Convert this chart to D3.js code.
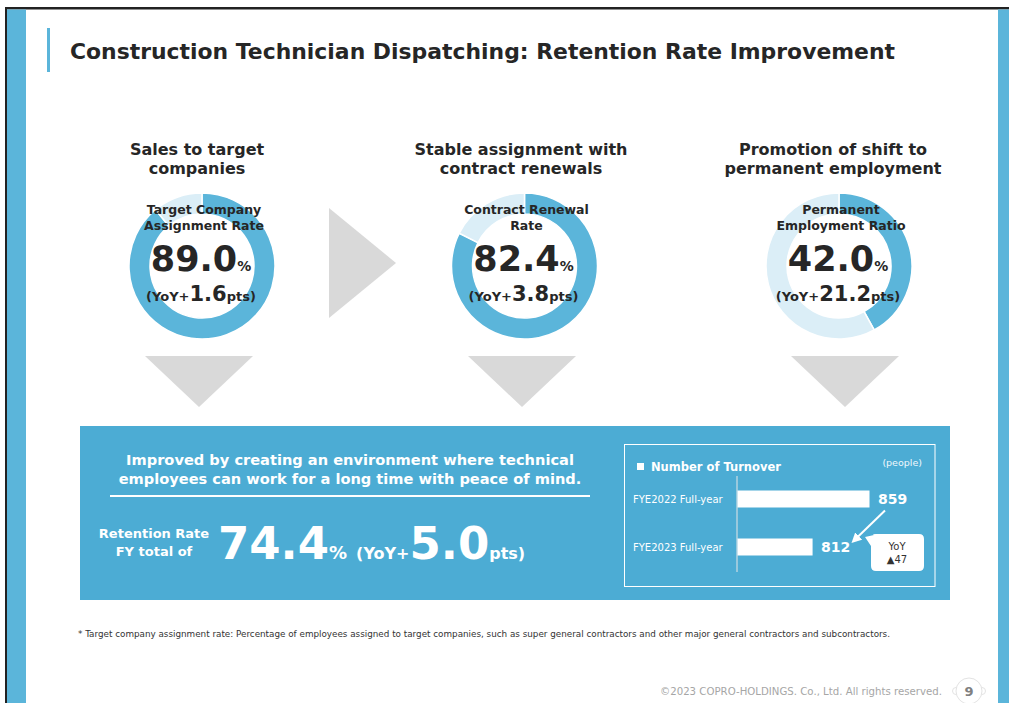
<!DOCTYPE html>
<html>
<head>
<meta charset="utf-8">
<script src="https://cdn.jsdelivr.net/npm/d3@7"></script>
<style>
  body { margin: 0; background: #fff; }
  svg { display: block; font-family: "DejaVu Sans", Verdana, sans-serif; }
</style>
</head>
<body>
<svg id="chart"></svg>
<script>
// ---- data ----
var titleText = "Construction Technician Dispatching: Retention Rate Improvement";
var headings = [["Sales to target", "companies"], ["Stable assignment with", "contract renewals"], ["Promotion of shift to", "permanent employment"]];
var rateLabels = [["Target Company", "Assignment Rate"], ["Contract Renewal", "Rate"], ["Permanent", "Employment Ratio"]];
var rates = [89.0, 82.4, 42.0];
var yoyPts = [1.6, 3.8, 21.2];
var summaryLines = ["Improved by creating an environment where technical", "employees can work for a long time with peace of mind."];
var retentionLabel = ["Retention Rate", "FY total of"];
var retentionRate = 74.4;
var retentionYoY = 5.0;
var turnoverYears = ["FYE2022 Full-year", "FYE2023 Full-year"];
var turnoverValues = [859, 812];
var footnote = "* Target company assignment rate: Percentage of employees assigned to target companies, such as super general contractors and other major general contractors and subcontractors.";
var copyright = "\u00A92023 COPRO-HOLDINGS. Co., Ltd. All rights reserved.";

var W = 1009, H = 703;
var blue = "#5bb5da", boxBlue = "#4cacd4", light = "#dbeef7", grey = "#d9d9d9", ink = "#262626";

var svg = d3.select("#chart").attr("width", W).attr("height", H);

// frame
svg.append("rect").attr("x", 5).attr("y", 7).attr("width", W - 5).attr("height", 2.5).attr("fill", "#222");
svg.append("rect").attr("x", 5).attr("y", 7).attr("width", 2).attr("height", H - 7).attr("fill", "#222");
svg.append("rect").attr("x", 7).attr("y", 9.5).attr("width", 19).attr("height", H).attr("fill", blue);
svg.append("rect").attr("x", 998).attr("y", 9.5).attr("width", 11).attr("height", H).attr("fill", blue);

// title
svg.append("rect").attr("x", 47).attr("y", 28).attr("width", 3).attr("height", 44).attr("fill", blue);
svg.append("text").attr("x", 70).attr("y", 59)
  .attr("font-size", 22).attr("font-weight", "bold").attr("fill", ink)
  .attr("textLength", 825).attr("lengthAdjust", "spacingAndGlyphs")
  .text(titleText);

// ---- donuts ----
var centers = [202, 524.5, 839];
var headX = [197, 521, 833];
var downX = [199, 522, 845];
var cy = 266;

var pie = d3.pie().sort(null).value(function(d) { return d; });
var arc = d3.arc().innerRadius(52).outerRadius(73);

rates.forEach(function(r, i) {
  var g = svg.append("g");

  g.selectAll(".hd").data(headings[i]).enter().append("text")
    .attr("x", headX[i]).attr("y", function(d, j) { return 155 + j * 19; })
    .attr("text-anchor", "middle").attr("font-size", 16).attr("font-weight", "bold").attr("fill", ink)
    .text(function(d) { return d; });

  var dg = g.append("g").attr("transform", "translate(" + centers[i] + "," + cy + ")");
  dg.selectAll("path").data(pie([r, 100 - r])).enter().append("path")
    .attr("d", arc)
    .attr("fill", function(d, j) { return j === 0 ? blue : light; })
    .attr("stroke", "#fff").attr("stroke-width", 1.5);

  var lx = centers[i] + 2;
  g.selectAll(".lb").data(rateLabels[i]).enter().append("text")
    .attr("x", lx).attr("y", function(d, j) { return 214 + j * 16; })
    .attr("text-anchor", "middle").attr("font-size", 12.5).attr("font-weight", "bold").attr("fill", ink)
    .text(function(d) { return d; });

  var big = g.append("text").attr("x", centers[i] - 1).attr("y", 271)
    .attr("text-anchor", "middle").attr("font-weight", "bold").attr("fill", ink);
  big.append("tspan").attr("font-size", 35).text(r.toFixed(1));
  big.append("tspan").attr("font-size", 14).text("%");

  var yoy = g.append("text").attr("x", lx - 3).attr("y", 301)
    .attr("text-anchor", "middle").attr("font-weight", "bold").attr("fill", ink);
  yoy.append("tspan").attr("font-size", 13).text("(YoY+");
  yoy.append("tspan").attr("font-size", 21).text(yoyPts[i].toFixed(1));
  yoy.append("tspan").attr("font-size", 13).text("pts)");

  svg.append("path")
    .attr("d", d3.line()([[downX[i] - 54, 356], [downX[i] + 54, 356], [downX[i], 407]]))
    .attr("fill", grey);
});

// right arrow between first two
svg.append("path").attr("d", d3.line()([[329, 208], [396, 263], [329, 318]])).attr("fill", grey);

// ---- summary box ----
svg.append("rect").attr("x", 80).attr("y", 426).attr("width", 870).attr("height", 174).attr("fill", boxBlue);

svg.selectAll(".sum").data(summaryLines).enter().append("text")
  .attr("x", 350).attr("y", function(d, j) { return 465 + j * 19; })
  .attr("text-anchor", "middle").attr("font-size", 14.6).attr("font-weight", "bold").attr("fill", "#fff")
  .text(function(d) { return d; });
svg.append("line").attr("x1", 110).attr("x2", 590).attr("y1", 496).attr("y2", 496)
  .attr("stroke", "#fff").attr("stroke-width", 2);

svg.selectAll(".ret").data(retentionLabel).enter().append("text")
  .attr("x", 154).attr("y", function(d, j) { return 538 + j * 18; })
  .attr("text-anchor", "middle").attr("font-size", 13).attr("font-weight", "bold").attr("fill", "#fff")
  .text(function(d) { return d; });

var rt = svg.append("text").attr("x", 218).attr("y", 559).attr("font-weight", "bold").attr("fill", "#fff");
rt.append("tspan").attr("font-size", 45).text(retentionRate.toFixed(1));
rt.append("tspan").attr("font-size", 18).text("%");
rt.append("tspan").attr("font-size", 16).attr("dx", 9).text("(YoY+");
rt.append("tspan").attr("font-size", 45).text(retentionYoY.toFixed(1));
rt.append("tspan").attr("font-size", 16).text("pts)");

// ---- turnover bars ----
svg.append("rect").attr("x", 624.5).attr("y", 444.5).attr("width", 310.5).attr("height", 142)
  .attr("fill", "none").attr("stroke", "#fff").attr("stroke-width", 1);
svg.append("rect").attr("x", 637).attr("y", 463).attr("width", 7).attr("height", 7).attr("fill", "#fff");
svg.append("text").attr("x", 651).attr("y", 471).attr("font-size", 11.5).attr("font-weight", "bold").attr("fill", "#fff")
  .text("Number of Turnover");
svg.append("text").attr("x", 922).attr("y", 466).attr("text-anchor", "end").attr("font-size", 9.5).attr("fill", "#f0f8fc")
  .text("(people)");

var x = d3.scaleLinear().domain([750, 859]).range([737, 869]);
var y = d3.scaleBand().domain(turnoverYears).range([475, 571]).paddingInner(0.646).paddingOuter(0.323);

svg.append("line").attr("x1", 737).attr("x2", 737).attr("y1", 476).attr("y2", 572)
  .attr("stroke", "#e6e6e6").attr("stroke-width", 1);

svg.selectAll(".bar").data(turnoverValues).enter().append("rect")
  .attr("x", x(750) + 0.5)
  .attr("y", function(d, i) { return y(turnoverYears[i]); })
  .attr("width", function(d) { return x(d) - x(750); })
  .attr("height", y.bandwidth())
  .attr("fill", "#fff");

svg.selectAll(".cat").data(turnoverYears).enter().append("text")
  .attr("x", 633).attr("y", function(d) { return y(d) + y.bandwidth() / 2 + 3.5; })
  .attr("font-size", 10).attr("fill", "#fff")
  .text(function(d) { return d; });

svg.selectAll(".val").data(turnoverValues).enter().append("text")
  .attr("x", function(d) { return x(d) + 9; })
  .attr("y", function(d, i) { return y(turnoverYears[i]) + y.bandwidth() / 2 + 5; })
  .attr("font-size", 14).attr("font-weight", "bold").attr("fill", "#fff")
  .text(function(d) { return d; });

// arrow from last year's value to this year's
svg.append("defs").append("marker").attr("id", "ah")
  .attr("viewBox", "0 0 10 10").attr("refX", 5).attr("refY", 5)
  .attr("markerWidth", 5).attr("markerHeight", 5).attr("orient", "auto")
  .append("path").attr("d", "M0,0L10,5L0,10z").attr("fill", "#fff");
var y0 = y(turnoverYears[0]) + y.bandwidth(), y1 = y(turnoverYears[1]);
svg.append("line")
  .attr("x1", x(turnoverValues[0]) + 16).attr("y1", y0 + 3)
  .attr("x2", x(turnoverValues[1]) + 43).attr("y2", y1 + 1)
  .attr("stroke", "#fff").attr("stroke-width", 2).attr("marker-end", "url(#ah)");

// callout
var cx0 = 871, cy0 = 534, cw = 53, ch = 37, rr = 5;
svg.append("path")
  .attr("d", "M" + (cx0 + rr) + "," + cy0 + "H" + (cx0 + cw - rr) + "Q" + (cx0 + cw) + "," + cy0 + " " + (cx0 + cw) + "," + (cy0 + rr) +
    "V" + (cy0 + ch - rr) + "Q" + (cx0 + cw) + "," + (cy0 + ch) + " " + (cx0 + cw - rr) + "," + (cy0 + ch) +
    "H" + (cx0 + rr) + "Q" + cx0 + "," + (cy0 + ch) + " " + cx0 + "," + (cy0 + ch - rr) +
    "V" + (cy0 + 12) + "L" + (cx0 - 6) + "," + (cy0 + 3) + "L" + (cx0 + 3) + "," + (cy0 + 1) +
    "Q" + cx0 + "," + cy0 + " " + (cx0 + rr) + "," + cy0 + "Z")
  .attr("fill", "#fff");
svg.append("text").attr("x", 897).attr("y", 550).attr("text-anchor", "middle").attr("font-size", 10).attr("fill", "#333").text("YoY");
svg.append("text").attr("x", 897).attr("y", 563).attr("text-anchor", "middle").attr("font-size", 10).attr("fill", "#333")
  .text("\u25B2" + (turnoverValues[0] - turnoverValues[1]));

// ---- footer ----
svg.append("text").attr("x", 78).attr("y", 637).attr("font-size", 8.5).attr("fill", "#333")
  .attr("textLength", 812).attr("lengthAdjust", "spacingAndGlyphs").text(footnote);
svg.append("text").attr("x", 942).attr("y", 695).attr("text-anchor", "end").attr("font-size", 10).attr("fill", "#a6a6a6")
  .attr("textLength", 282).attr("lengthAdjust", "spacingAndGlyphs").text(copyright);

var badge = svg.append("g").attr("transform", "translate(969,691)");
badge.append("circle").attr("cx", -13).attr("r", 3.5).attr("fill", "#fff").attr("stroke", "#e3e3e3");
badge.append("circle").attr("cx", 13).attr("r", 3.5).attr("fill", "#fff").attr("stroke", "#e3e3e3");
badge.append("circle").attr("r", 13).attr("fill", "#fff").attr("stroke", "#e3e3e3");
badge.append("text").attr("y", 5).attr("text-anchor", "middle").attr("font-size", 13).attr("font-weight", "bold").attr("fill", "#808080").text("9");
</script>
</body>
</html>
